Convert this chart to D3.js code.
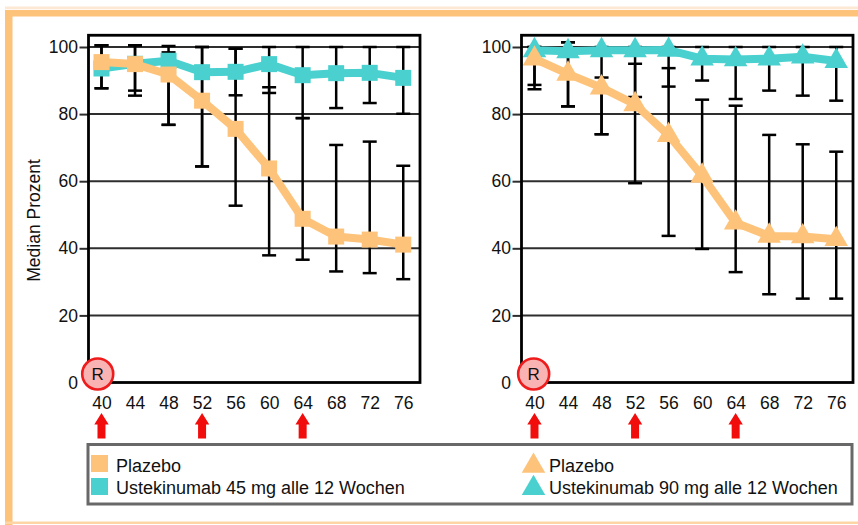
<!DOCTYPE html>
<html><head><meta charset="utf-8">
<script src="https://cdn.jsdelivr.net/npm/d3@7"></script>
<style>
body{margin:0;background:#fff}
svg{display:block}
text{font-family:"Liberation Sans",Arial,sans-serif;fill:#111}
</style>
</head><body>
<svg id="c" width="858" height="525"></svg>
<script>
// ---------- data ----------
const weeks = [40, 44, 48, 52, 56, 60, 64, 68, 72, 76];
const yTicks = [0, 20, 40, 60, 80, 100];
const arrowWeeks = [40, 52, 64];
const yTitle = "Median Prozent";

// Panel 1: Ustekinumab 45 mg (squares)
const placebo45 = [95.5, 94.9, 91.8, 84.0, 75.6, 63.8, 48.8, 43.5, 42.6, 41.1];
const placebo45Lo = [87.7, 85.5, 76.8, 64.4, 52.7, 37.9, 36.6, 33.1, 32.6, 30.8];
const placebo45Hi = [100.5, 100.5, 100.3, 100, 99.5, 88.0, 78.8, 70.8, 71.8, 64.6];
const uste45 = [93.6, 95.0, 95.9, 92.5, 92.6, 94.9, 91.6, 92.2, 92.3, 90.8];
const uste45Lo = [87.7, 87.0, 76.8, 64.4, 85.6, 86.3, 78.8, 81.8, 83.3, 80.1];
const uste45Hi = [100.5, 100.5, 98.4, 100, 99.5, 100, 100, 100, 100, 100];

// Panel 2: Ustekinumab 90 mg (triangles)
const placebo90 = [96.5, 92.0, 87.9, 82.9, 73.7, 61.6, 47.6, 43.7, 43.5, 42.7];
const placebo90Lo = [87.4, 82.3, 74.0, 59.4, 43.7, 39.8, 32.9, 26.3, 25.0, 25.0];
const placebo90Hi = [100, 101.4, 90.9, 95.0, 93.7, 84.3, 82.5, 73.8, 71.0, 68.8];
const uste90 = [99.0, 98.7, 99.0, 99.0, 99.1, 96.5, 96.3, 96.5, 97.1, 95.8];
const uste90Lo = [88.7, 82.3, 74.0, 85.1, 88.2, 90.0, 84.5, 87.0, 85.5, 84.0];
const uste90Hi = [100, 101.4, 100, 100, 100, 100, 100, 100, 100, 100];

const legendLeft = ["Plazebo", "Ustekinumab 45 mg alle 12 Wochen"];
const legendRight = ["Plazebo", "Ustekinumab 90 mg alle 12 Wochen"];

// ---------- style ----------
const ORANGE = "#fec37a";
const TEAL = "#4ad1cf";
const FONT = '"Liberation Sans",Arial,sans-serif';

const svg = d3.select("#c");

// decorative page frame
svg.append("rect").attr("x", 5).attr("y", 6.5).attr("width", 853).attr("height", 2.8).attr("fill", "#fde8d3");
svg.append("rect").attr("x", 5).attr("y", 10).attr("width", 853).attr("height", 6.5).attr("fill", ORANGE);
svg.append("rect").attr("x", 5).attr("y", 10).attr("width", 7.5).attr("height", 515).attr("fill", ORANGE);
svg.append("rect").attr("x", 5).attr("y", 521.5).attr("width", 853).attr("height", 2.5).attr("fill", "#fed5a5");

const y = d3.scaleLinear().domain([0, 100]).range([382.5, 47]);

const panels = [
  { range: [88.5, 420], rWeek: 39.55, marker: "square",
    series: [
      { v: uste45, lo: uste45Lo, hi: uste45Hi, color: TEAL },
      { v: placebo45, lo: placebo45Lo, hi: placebo45Hi, color: ORANGE }
    ] },
  { range: [521.5, 853], rWeek: 39.9, marker: "triangle",
    series: [
      { v: uste90, lo: uste90Lo, hi: uste90Hi, color: TEAL },
      { v: placebo90, lo: placebo90Lo, hi: placebo90Hi, color: ORANGE }
    ] }
];

const tri = d3.symbol(d3.symbolTriangle, 240);

panels.forEach((p, pi) => {
  const x = d3.scaleLinear().domain([38.45, 78]).range(p.range);
  const g = svg.append("g");
  const x0 = p.range[0], x1 = p.range[1];

  // grid
  g.selectAll("line.grid").data(yTicks.filter(d => d > 0)).join("line")
    .attr("x1", x0).attr("x2", x1).attr("y1", d => y(d)).attr("y2", d => y(d))
    .attr("stroke", "#2e2e2e").attr("stroke-width", 2);

  // y axis
  const ya = g.append("g").attr("transform", `translate(${x0},0)`)
    .call(d3.axisLeft(y).tickValues(yTicks).tickSize(9).tickPadding(1.5).tickFormat(d3.format("d")));
  ya.select(".domain").remove();
  ya.selectAll(".tick line").attr("stroke", "#2e2e2e").attr("stroke-width", 2)
    .filter(d => d === 0).remove();
  ya.selectAll(".tick text").attr("font-size", 17.5).attr("fill", "#111").style("font-family", FONT);

  // x axis
  const xa = g.append("g").attr("transform", `translate(0,${y(0)})`)
    .call(d3.axisBottom(x).tickValues(weeks).tickSize(0).tickPadding(14));
  xa.select(".domain").remove();
  xa.selectAll(".tick text").attr("font-size", 17.5).attr("fill", "#111").style("font-family", FONT);

  // error bars
  p.series.forEach(s => {
    const eb = g.append("g").attr("stroke", "#000").attr("stroke-width", 2.5);
    weeks.forEach((w, i) => {
      const cx = x(w);
      eb.append("line").attr("x1", cx).attr("x2", cx).attr("y1", y(s.lo[i])).attr("y2", y(s.hi[i]));
      [s.lo[i], s.hi[i]].forEach(v => {
        eb.append("line").attr("x1", cx - 7).attr("x2", cx + 7).attr("y1", y(v)).attr("y2", y(v));
      });
    });
  });

  // lines + markers
  p.series.forEach(s => {
    const line = d3.line().x((d, i) => x(weeks[i])).y(d => y(d));
    g.append("path").datum(s.v).attr("d", line).attr("fill", "none")
      .attr("stroke", s.color).attr("stroke-width", 8).attr("stroke-linejoin", "round");
    if (p.marker === "square") {
      g.selectAll(null).data(s.v).join("rect")
        .attr("x", (d, i) => x(weeks[i]) - 8).attr("y", d => y(d) - 8)
        .attr("width", 16).attr("height", 16).attr("fill", s.color);
    } else {
      g.selectAll(null).data(s.v).join("path")
        .attr("d", tri).attr("transform", (d, i) => `translate(${x(weeks[i])},${y(d)})`)
        .attr("fill", s.color);
    }
  });

  // frame
  g.append("rect").attr("x", x0).attr("y", y(103.5)).attr("width", x1 - x0).attr("height", y(0) - y(103.5))
    .attr("fill", "none").attr("stroke", "#000").attr("stroke-width", 2.8);

  // R marker
  const rx = x(p.rWeek);
  g.append("circle").attr("cx", rx).attr("cy", 374).attr("r", 15.5)
    .attr("fill", "#f9b3b3").attr("stroke", "#ee1c1c").attr("stroke-width", 2.6);
  g.append("text").attr("x", rx).attr("y", 374).attr("dy", "0.36em").attr("text-anchor", "middle")
    .attr("font-size", 17).text("R");

  // red arrows
  g.selectAll("path.arrow").data(arrowWeeks).join("path").attr("class", "arrow")
    .attr("transform", d => `translate(${x(d)},0)`)
    .attr("d", "M0,413 L7.2,424.5 L4,424.5 L4,438.5 L-4,438.5 L-4,424.5 L-7.2,424.5 Z")
    .attr("fill", "#f20d0d");
});

// y axis title
svg.append("text").attr("transform", "translate(39.5,220.5) rotate(-90)")
  .attr("text-anchor", "middle").attr("font-size", 17.5).text(yTitle);

// legend
svg.append("rect").attr("x", 88).attr("y", 444.5).attr("width", 764).attr("height", 59.5)
  .attr("fill", "#fff").attr("stroke", "#686868").attr("stroke-width", 3);
const lg = svg.append("g");
const legendColors = [ORANGE, TEAL];
legendLeft.forEach((t, i) => {
  lg.append("rect").attr("x", 91).attr("y", 455 + i * 23).attr("width", 17).attr("height", 17)
    .attr("fill", legendColors[i]);
  lg.append("text").attr("x", 116).attr("y", 472 + i * 21.5).attr("font-size", 18).text(t);
});
legendRight.forEach((t, i) => {
  lg.append("path").attr("d", tri).attr("transform", `translate(533.5,${466 + i * 22.3})`)
    .attr("fill", legendColors[i]);
  lg.append("text").attr("x", 549).attr("y", 472 + i * 21.5).attr("font-size", 18).text(t);
});
</script>
</body></html>
